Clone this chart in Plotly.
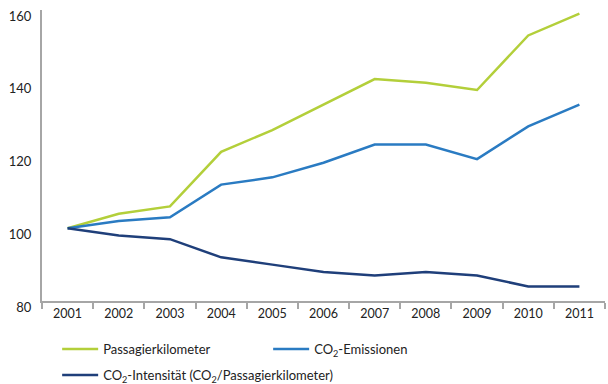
import plotly.graph_objects as go

years = ["2001", "2002", "2003", "2004", "2005", "2006", "2007", "2008", "2009", "2010", "2011"]
passagierkm = [100, 104, 106, 121, 127, 134, 141, 140, 138, 153, 159]
co2_emissionen = [100, 102, 103, 112, 114, 118, 123, 123, 119, 128, 134]
co2_intensitaet = [100, 98, 97, 92, 90, 88, 87, 88, 87, 84, 84]

names = ["Passagierkilometer", "CO<sub>2</sub>-Emissionen",
         "CO<sub>2</sub>-Intensität (CO<sub>2</sub>/Passagierkilometer)"]
colors = ["#b3cf3a", "#2a7bc2", "#1f3f7a"]
series = [passagierkm, co2_emissionen, co2_intensitaet]
legends = ["legend", "legend", "legend2"]

fig = go.Figure()
for n, c, s, lg in zip(names, colors, series, legends):
    fig.add_trace(go.Scatter(x=years, y=s, name=n, mode="lines", legend=lg,
                             line=dict(color=c, width=2.5)))

leg_common = dict(orientation="h", xref="container", yref="container",
                  xanchor="left", yanchor="middle",
                  entrywidthmode="pixels",
                  itemwidth=36, font=dict(size=13, color="#222"),
                  bgcolor="rgba(0,0,0,0)")

fig.update_layout(
    width=608, height=384,
    margin=dict(l=42, r=3, t=10, b=83, autoexpand=False),
    paper_bgcolor="white", plot_bgcolor="white",
    font=dict(family="Lato, Open Sans, sans-serif", size=13, color="#222"),
    showlegend=True,
    legend=dict(x=0.094, y=1 - 349 / 384, entrywidth=160, **leg_common),
    legend2=dict(x=0.094, y=1 - 375 / 384, entrywidth=400, **leg_common),
)
fig.update_xaxes(type="category", showline=True, linecolor="#a6a6a6", linewidth=2,
                 ticks="outside", tickson="boundaries", ticklen=6, tickwidth=2,
                 tickcolor="#a6a6a6", showgrid=False, tickfont=dict(size=12.5),
                 range=[-0.5, 10.5], automargin=False)
fig.update_yaxes(range=[80, 160], tickvals=[80, 100, 120, 140, 160], showline=True,
                 linecolor="#a6a6a6", linewidth=2, showgrid=False, zeroline=False,
                 ticks="", tickfont=dict(size=13), ticklabelshift=6,
                 ticklabelstandoff=6, automargin=False)

fig.write_html("out.html")
